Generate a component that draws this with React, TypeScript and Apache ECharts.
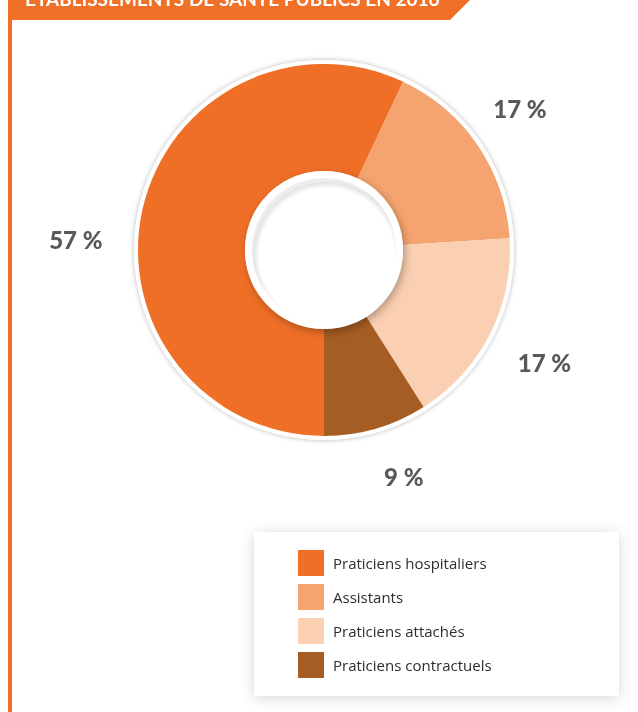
import React, { useEffect, useRef } from "react";
import * as echarts from "echarts";

const TITLE = "ÉTABLISSEMENTS DE SANTÉ PUBLICS EN 2016";
const categories = [
  "Praticiens hospitaliers",
  "Assistants",
  "Praticiens attachés",
  "Praticiens contractuels",
];
const values = [57, 17, 17, 9];
const colors = ["#F06F27", "#F5A46F", "#FBCFB1", "#A65D24"];

// label nudges (px) to follow the reference placement
const labelNudges = [
  [-11, 43],
  [-5, -5],
  [4, 2],
  [12, -7],
];

const CX = 324;
const CY = 250;
const R_IN = 79;
const R_OUT = 186;

export default function App() {
  const ref = useRef<HTMLDivElement>(null);

  useEffect(() => {
    if (!ref.current) return;
    const chart = echarts.init(ref.current, null, { renderer: "svg" });
    const data = categories.map((name, i) => ({
      name,
      value: values[i],
      itemStyle: { color: colors[i] },
    }));
    const ghost = categories.map((name, i) => ({
      name,
      value: values[i],
      itemStyle: { color: "rgba(0,0,0,0)" },
    }));

    chart.setOption({
      animation: false,
      graphic: [
        {
          type: "polygon",
          z: 1,
          shape: { points: [[8, 0], [470, 0], [450, 20], [8, 20]] },
          style: { fill: "#F07027" },
        },
        {
          type: "rect",
          z: 1,
          shape: { x: 8, y: 0, width: 4, height: 712 },
          style: { fill: "#F07027" },
        },
        {
          type: "text",
          z: 2,
          style: {
            text: TITLE,
            x: 25,
            y: -2,
            fill: "#ffffff",
            font: "bold 19px Lato",
            verticalAlign: "middle",
          },
        },
        {
          type: "circle",
          z: 0,
          shape: { cx: CX, cy: CY, r: 190 },
          style: {
            fill: "#ffffff",
            shadowBlur: 5,
            shadowColor: "rgba(0,0,0,0.3)",
          },
        },
        {
          type: "circle",
          z: 10,
          shape: { cx: CX, cy: CY, r: R_IN },
          style: {
            fill: "#ffffff",
            shadowBlur: 8,
            shadowOffsetX: 2,
            shadowOffsetY: 3,
            shadowColor: "rgba(0,0,0,0.3)",
          },
        },
        {
          type: "circle",
          z: 11,
          shape: { cx: CX, cy: CY, r: 72 },
          style: {
            fill: {
              type: "radial",
              x: 0.52,
              y: 0.54,
              r: 0.52,
              colorStops: [
                { offset: 0, color: "#ffffff" },
                { offset: 0.9, color: "#ffffff" },
                { offset: 0.975, color: "#e4e4e4" },
                { offset: 1, color: "#ededed" },
              ],
            },
          },
        },
        {
          type: "rect",
          z: 0,
          shape: { x: 254, y: 532, width: 365, height: 164 },
          style: {
            fill: "#ffffff",
            shadowBlur: 14,
            shadowOffsetY: 2,
            shadowColor: "rgba(0,0,0,0.16)",
          },
        },
      ],
      legend: {
        data: categories,
        orient: "vertical",
        left: 298,
        top: 550,
        itemWidth: 26,
        itemHeight: 26,
        itemGap: 8,
        icon: "rect",
        selectedMode: false,
        padding: 0,
        textStyle: {
          fontFamily: "Open Sans",
          fontSize: 15,
          color: "#2e2e2e",
          padding: [0, 0, 0, 4],
        },
      },
      series: [
        {
          type: "pie",
          name: "main",
          silent: true,
          center: [CX, CY],
          radius: [R_IN, R_OUT],
          startAngle: -90,
          clockwise: true,
          data,
          label: { show: false },
          labelLine: { show: false },
          emphasis: { disabled: true },
        },
        {
          type: "pie",
          name: "labels",
          silent: true,
          center: [CX, CY],
          radius: [230, 250],
          startAngle: -90,
          clockwise: true,
          data: ghost,
          label: {
            show: true,
            position: "inside",
            formatter: "{c} %",
            fontFamily: "Lato",
            fontWeight: 900,
            fontSize: 24,
            color: "#58595B",
          },
          labelLine: { show: false },
          labelLayout: (p: any) => ({
            dx: labelNudges[p.dataIndex][0],
            dy: labelNudges[p.dataIndex][1],
          }),
          emphasis: { disabled: true },
        },
      ],
    });
    return () => chart.dispose();
  }, []);

  return (
    <div
      ref={ref}
      style={{ position: "fixed", left: 0, top: 0, width: 638, height: 712 }}
    />
  );
}
